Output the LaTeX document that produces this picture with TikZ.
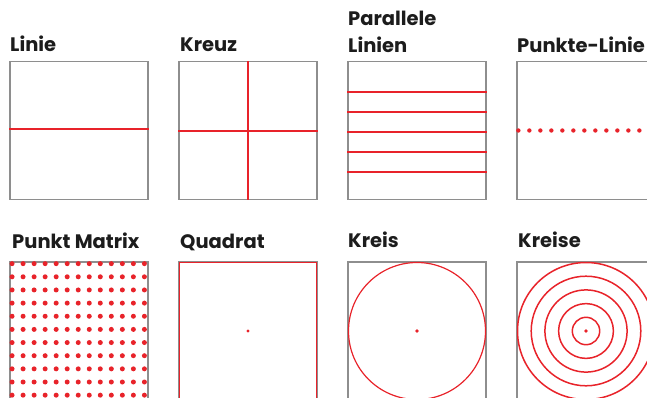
\documentclass[tikz,border=0pt]{standalone}
\usepackage{fontspec}
\setmainfont{Poppins}
\usetikzlibrary{positioning,calc}
\definecolor{signal}{HTML}{E8232A}
\definecolor{rahmen}{HTML}{8E8E8E}
\definecolor{schrift}{HTML}{1C1C1C}

\begin{document}
\begin{tikzpicture}[x=1pt, y=-1pt,
  feld/.style={rectangle, draw=rahmen, line width=1.3pt, minimum size=138pt, inner sep=0pt},
  titel/.style={anchor=base west, inner sep=0pt, font=\fontsize{19.5}{27}\selectfont\bfseries, text=schrift, align=left},
  rotlinie/.style={draw=signal, line width=1.2pt},
  punkt/.style={fill=signal}
]
  \clip (0,0) rectangle (647,398);

  \node[feld] (linie) at (79,130.5) {};
  \node[feld] (kreuz) at (248,130.5) {};
  \node[feld] (parallel) at (417,130.5) {};
  \node[feld] (punktlinie) at (586,130.5) {};
  \node[feld] (punktmatrix) at (79,331) {};
  \node[feld] (quadrat) at (248,331) {};
  \node[feld] (kreis) at (417,331) {};
  \node[feld] (kreise) at (586,331) {};

  \node[titel] (t-linie) at (10,52) {Linie};
  \node[titel] (t-kreuz) at (180,52) {Kreuz};
  \node[titel] (t-parallel) at (348,53) {Parallele\\Linien};
  \node[titel] (t-punktlinie) at (517,53) {Punkte-Linie};
  \node[titel] (t-punktmatrix) at (12,248) {Punkt Matrix};
  \node[titel] (t-quadrat) at (180,248) {Quadrat};
  \node[titel] (t-kreis) at (348,247) {Kreis};
  \node[titel] (t-kreise) at (518,247) {Kreise};

  \draw[rotlinie] ($(linie.west)+(0,-1.5)$) -- ($(linie.east)+(0,-1.5)$);
  \draw[rotlinie] ($(kreuz.west)+(0,0.5)$) -- ($(kreuz.east)+(0,0.5)$);
  \draw[rotlinie] (kreuz.north) -- (kreuz.south);
  \foreach \i in {0,...,4}
    \draw[rotlinie] ($(parallel.west)+(0,-38.5+\i*20)$) -- ($(parallel.east)+(0,-38.5+\i*20)$);
  \foreach \i in {0,...,12}
    \fill[punkt] ($(punktlinie.west)+(2+\i*11,0)$) circle (2.2pt);
  \foreach \i in {0,...,12}
    \foreach \j in {0,...,10}
      \fill[punkt] ($(punktmatrix.north west)+(2.7+\i*11.03,2.3+\j*13.15)$) circle (2.5pt);
  \draw[rotlinie] ($(quadrat.north west)+(1,1)$) rectangle ($(quadrat.south east)+(-1,-1)$);
  \fill[punkt] (quadrat.center) circle (1.6pt);
  \draw[rotlinie] (kreis.center) circle (68.5pt);
  \fill[punkt] (kreis.center) circle (1.8pt);
  \foreach \r in {1,...,5}
    \draw[rotlinie, line width=1.5pt] (kreise.center) circle [radius=\r*13.7pt];
  \fill[punkt] (kreise.center) circle (1.8pt);
\end{tikzpicture}
\end{document}
